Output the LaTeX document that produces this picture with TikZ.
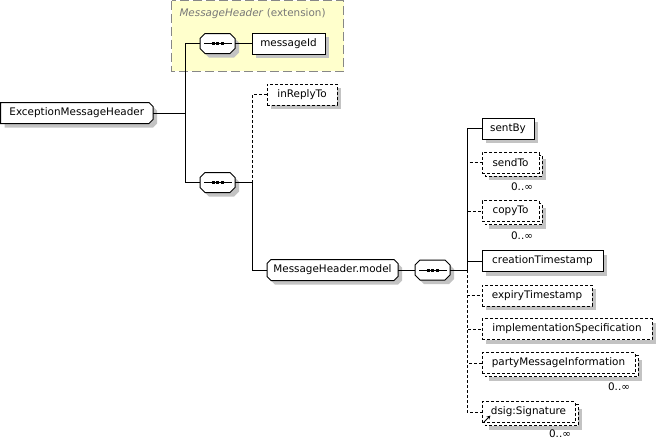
\documentclass[tikz,border=0pt]{standalone}
\usepackage{fontspec}
\setmainfont{DejaVu Sans}
\usetikzlibrary{arrows.meta}
\definecolor{shadowgray}{RGB}{195,195,195}
\definecolor{extfill}{RGB}{255,255,204}
\definecolor{extline}{RGB}{135,135,135}
\definecolor{titlegray}{RGB}{120,120,120}
\newcommand\fsz{\fontsize{10.4pt}{12pt}\selectfont}
% chamfered path: x1,y1,x2,y2,c
\newcommand\chpath[5]{({#1+#5},{#2}) -- ({#3-#5},{#2}) -- ({#3},{#2+#5}) -- ({#3},{#4-#5}) -- ({#3-#5},{#4}) -- ({#1+#5},{#4}) -- ({#1},{#4-#5}) -- ({#1},{#2+#5}) -- cycle}
% element box: style, name, x, yc, w, text
\newcommand\elbox[6]{%
  \fill[shadowgray] ({#3+4},{#4-10.5+4}) rectangle ({#3+#5+4},{#4+10.5+4});
  \node[elem,#1,minimum width=#5pt] (#2) at ({#3+#5/2},{#4}) {#6};}
% stacked optional box: name, x, yc, w, text
\newcommand\stacked[5]{%
  \fill[shadowgray] ({#2+7},{#3-10.5+7}) rectangle ({#2+#4+7},{#3+10.5+7});
  \draw[optline,fill=white] ({#2+3},{#3-10.5+3}) rectangle ({#2+#4+3},{#3+10.5+3});
  \node[elem,optline,minimum width=#4pt] (#1) at ({#2+#4/2},{#3}) {#5};}
% compositor: name, x1, yc
\newcommand\comp[3]{%
  \fill[shadowgray,shift={(4,4)}] \chpath{#2}{#3-10}{#2+35}{#3+10}{5};
  \draw[fill=white] \chpath{#2}{#3-10}{#2+35}{#3+10}{5};
  \draw ({#2+4},{#3}) -- ({#2+31.5},{#3});
  \fill ({#2+17.5-6},{#3-1.5}) rectangle ({#2+17.5-3},{#3+1.5});
  \fill ({#2+17.5-1.5},{#3-1.5}) rectangle ({#2+17.5+1.5},{#3+1.5});
  \fill ({#2+17.5+3},{#3-1.5}) rectangle ({#2+17.5+6},{#3+1.5});
  \node[plain,minimum width=35pt,minimum height=20pt] (#1) at ({#2+17.5},{#3}) {};}
\begin{document}
\begin{tikzpicture}[x=1pt,y=-1pt,line width=1pt,
  plain/.style={inner sep=0pt,outer sep=0pt,font=\fsz},
  elem/.style={plain,draw,fill=white,rectangle,minimum height=21pt},
  optline/.style={dash pattern=on 3pt off 2pt},
  optel/.style={optline},
  mult/.style={plain,anchor=east}]
\useasboundingbox (0,0) rectangle (657,440);
% extension area
\draw[extline,fill=extfill,dash pattern=on 9pt off 4pt] (171.5,0.5) rectangle (343.5,71);
\node[plain,anchor=west,text=titlegray] (exttitle) at (179.5,14) {\textit{MessageHeader} (extension)};
% root
\fill[shadowgray,shift={(4,4)}] (0.5,102.5) -- (149,102.5) -- (153,106.5) -- (153,119.5) -- (149,123.5) -- (0.5,123.5) -- cycle;
\draw[fill=white] (0.5,102.5) -- (149,102.5) -- (153,106.5) -- (153,119.5) -- (149,123.5) -- (0.5,123.5) -- cycle;
\node[plain,minimum width=152.5pt,minimum height=21pt] (emh) at (76.75,113) {ExceptionMessageHeader};
% compositors
\comp{c1}{200}{43.5}
\comp{c2}{200}{182.5}
\comp{c3}{415}{270}
% model group
\fill[shadowgray,shift={(4,4)}] \chpath{267}{259.5}{398}{280.5}{4};
\draw[fill=white] \chpath{267}{259.5}{398}{280.5}{4};
\node[plain,minimum width=131pt,minimum height=21pt] (mhm) at (332.5,270) {MessageHeader.model};
% elements
\elbox{}{msgid}{252}{43.5}{73}{messageId}
\elbox{optel}{irt}{267}{94.5}{70}{inReplyTo}
\elbox{}{sentby}{482}{128.5}{52}{sentBy}
\stacked{sendto}{482}{162.5}{57}{sendTo}
\stacked{copyto}{482}{211}{57}{copyTo}
\elbox{}{cts}{482}{261}{121}{creationTimestamp}
\elbox{optel}{ets}{482}{295.5}{110}{expiryTimestamp}
\elbox{optel}{impl}{482}{329}{170}{implementationSpecification}
\stacked{pmi}{482}{363}{153}{partyMessageInformation}
\stacked{dsig}{482}{412}{93}{dsig:Signature}
% reference arrow in dsig
\draw[line width=1pt,-{Stealth[length=4pt,width=4pt]}] (484,422) -- (490.5,415.5);
% multiplicities
\node[mult] (m1) at (533,187) {0..∞};
\node[mult] (m2) at (533,236) {0..∞};
\node[mult] (m3) at (630,387) {0..∞};
\node[mult] (m4) at (571,434) {0..∞};
% bus coordinates
\coordinate (b0) at (185,113);
\coordinate (b2) at (252,182.5);
\coordinate (b3) at (467,270);
% connectors
\draw (emh.east) -- (b0);
\draw (b0) |- (c1.west);
\draw (b0) |- (c2.west);
\draw (c1.east) -- (msgid.west);
\draw (c2.east) -- (b2);
\draw[optline] (b2) |- (irt.west);
\draw (b2) |- (mhm.west);
\draw (mhm.east) -- (c3.west);
\draw (c3.east) -- (b3);
\draw[optline] (b3) |- (dsig.west);
\draw[optline] (b3) |- (pmi.west);
\draw[optline] (b3) |- (impl.west);
\draw[optline] (b3) |- (ets.west);
\draw[optline] (b3) |- (sendto.west);
\draw[optline] (b3) |- (copyto.west);
\draw (b3) |- (sentby.west);
\draw (b3) |- (cts.west);
\end{tikzpicture}
\end{document}
